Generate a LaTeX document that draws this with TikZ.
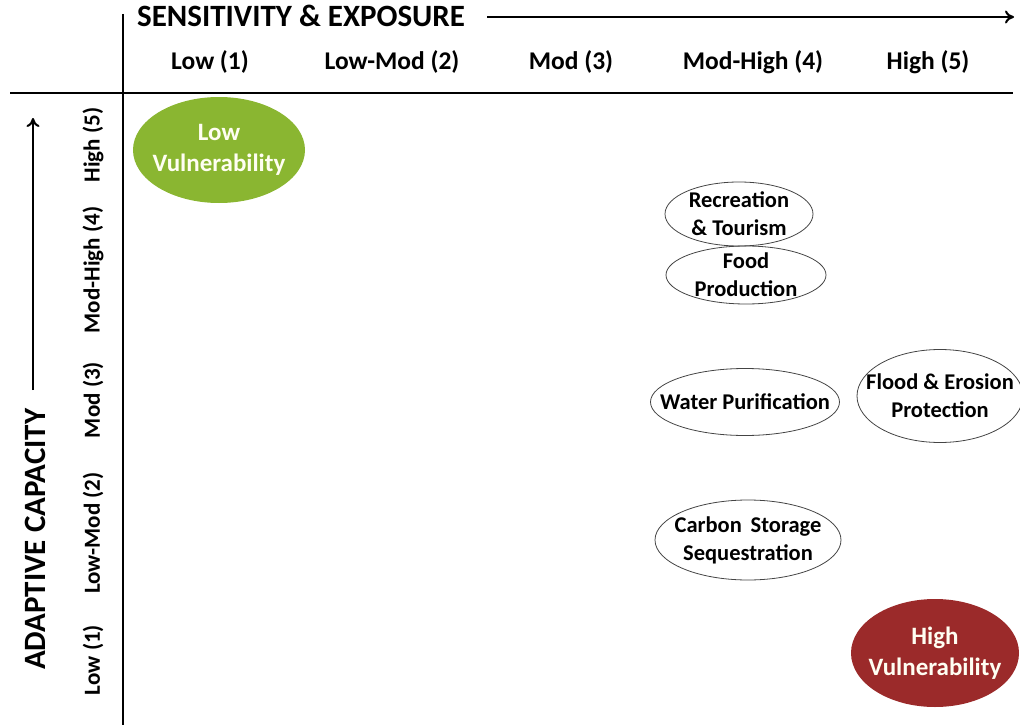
\documentclass[tikz,border=0pt]{standalone}
\usepackage{fontspec}
\setmainfont{Carlito}
\usetikzlibrary{shapes.geometric,arrows.meta}
\definecolor{lowgreen}{HTML}{8AB631}
\definecolor{highred}{HTML}{9B2A2A}
\definecolor{ringgray}{HTML}{444444}
\tikzset{
  axisline/.style={line width=2.8pt},
  axisarrow/.style={line width=2pt,-{To[length=9pt,width=13pt]}},
  title/.style={font=\fontsize{31}{34}\selectfont\bfseries,inner sep=0},
  collabel/.style={font=\fontsize{25.5}{28}\selectfont\bfseries,inner sep=0},
  rowlabel/.style={font=\fontsize{23}{26}\selectfont\bfseries,inner sep=0,rotate=90},
  % negative inner sep: the ellipse size is set by minimum width/height only
  blob/.style={ellipse,inner xsep=-90pt,inner ysep=-40pt,align=center},
  service/.style={blob,draw=ringgray,line width=0.8pt,
    font=\fontsize{22.5}{28}\selectfont\bfseries},
  rating/.style={blob,draw=none,text=white!95!yellow,
    font=\fontsize{25}{31}\selectfont\bfseries},
}
\begin{document}
\begin{tikzpicture}[x=1pt,y=-1pt]
\useasboundingbox (0,0) rectangle (1020,725);
\clip (0,0) rectangle (1020,725);
% grid frame
\coordinate (vtop) at (123,14);
\coordinate (vbot) at (123,725);
\coordinate (hleft) at (10,93);
\coordinate (hright) at (1013,93);
\draw[axisline] (vtop) -- (vbot);
\draw[axisline] (hleft) -- (hright);
% axis titles with arrows
\node[title,anchor=base west] (sens) at (137,27) {SENSITIVITY \& EXPOSURE};
\coordinate (sensstart) at (487,17);
\coordinate (sensend) at (1014,17);
\draw[axisarrow] (sensstart) -- (sensend);
\node[title,rotate=90,anchor=base west] (adapt) at (45,670) {ADAPTIVE CAPACITY};
\coordinate (adaptstart) at (33,390);
\coordinate (adaptend) at (33,118);
\draw[axisarrow] (adaptstart) -- (adaptend);
% column ratings
\node[collabel] (c1) at (210,62) {Low (1)};
\node[collabel] (c2) at (392,62) {Low-Mod (2)};
\node[collabel] (c3) at (571,62) {Mod (3)};
\node[collabel] (c4) at (753,62) {Mod-High (4)};
\node[collabel] (c5) at (928,62) {High (5)};
% row ratings
\node[rowlabel] (r5) at (93,145) {High (5)};
\node[rowlabel] (r4) at (93,270) {Mod-High (4)};
\node[rowlabel] (r3) at (93,400) {Mod (3)};
\node[rowlabel] (r2) at (93,533) {Low-Mod (2)};
\node[rowlabel] (r1) at (93,660) {Low (1)};
% corner ratings
\node[rating,fill=lowgreen,minimum width=172pt,minimum height=106pt] (lowv) at (219,150) {Low\\Vulnerability};
\node[rating,fill=highred,minimum width=168pt,minimum height=108pt] (highv) at (935,653) {High\\Vulnerability};
% ecosystem services
\node[service,minimum width=148pt,minimum height=64pt] (rec) at (739,214) {Recreation\\\& Tourism};
\node[service,minimum width=160pt,minimum height=58pt] (food) at (746,275) {Food\\Production};
\node[service,minimum width=189pt,minimum height=67pt] (water) at (745,402) {Water Purification};
\node[service,minimum width=166pt,minimum height=93pt] (flood) at (940,396) {Flood \& Erosion\\Protection};
\node[service,minimum width=186pt,minimum height=80pt] (carbon) at (748,540) {Carbon\, Storage\\Sequestration};
\end{tikzpicture}
\end{document}
